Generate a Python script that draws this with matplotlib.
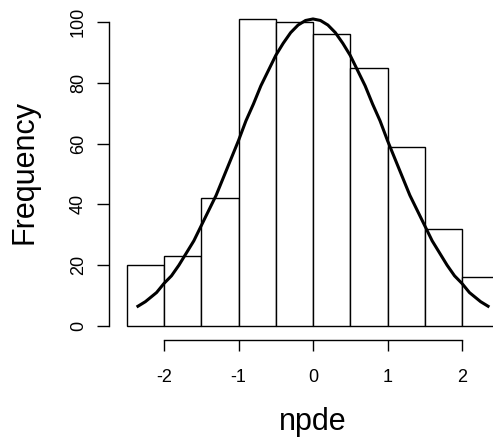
import matplotlib.pyplot as plt
import numpy as np

plt.rcParams['font.family'] = ['Liberation Sans', 'DejaVu Sans']

# histogram bins (width 0.5) and counts
bin_edges = [-2.5, -2.0, -1.5, -1.0, -0.5, 0.0, 0.5, 1.0, 1.5, 2.0, 2.5]
counts = [20, 23, 42, 101, 100, 96, 85, 59, 32, 16]

# overlaid curve
curve_x = [-2.35, -2.25, -2.1, -2.0, -1.9, -1.8, -1.7, -1.6, -1.5, -1.4, -1.3, -1.2, -1.1,
           -1.0, -0.9, -0.8, -0.7, -0.6, -0.5, -0.4, -0.3, -0.2, -0.1, 0.0,
           0.1, 0.2, 0.3, 0.4, 0.5, 0.6, 0.7, 0.8, 0.9, 1.0, 1.1, 1.2, 1.3,
           1.4, 1.5, 1.6, 1.7, 1.8, 1.9, 2.0, 2.1, 2.25, 2.35]
curve_y = [6.5, 8, 11, 14, 16.5, 20, 24, 28, 33, 38, 43, 49, 55,
           61, 67.5, 73, 79, 84, 89, 93, 96.5, 99, 100.5, 101,
           100.5, 99, 96.5, 93, 89, 84, 79, 73, 67.5, 61, 55, 49, 43,
           38, 33, 28, 24, 20, 16.5, 14, 11, 8, 6.5]

x_ticks = [-2, -1, 0, 1, 2]
y_ticks = [0, 20, 40, 60, 80, 100]

W, H = 493, 446
fig = plt.figure(figsize=(W / 100, H / 100), dpi=100)

# axes from pixel 100 to the right edge; x px = 313 + 74.5*x, y px = 326 - 3.04*y
left_px, right_px, top_px, bot_px = 100, 493, 4, 362
ax = fig.add_axes([left_px / W, 1 - bot_px / H, (right_px - left_px) / W, (bot_px - top_px) / H])
ax.set_xlim((left_px - 313) / 74.5, (right_px - 313) / 74.5)
ax.set_ylim((326 - bot_px) / 3.04, (326 - top_px) / 3.04)

edges = np.array(bin_edges)
ax.bar(edges[:-1], counts, width=np.diff(edges), align='edge',
       facecolor='white', edgecolor='black', linewidth=1.0, zorder=2)
ax.plot(curve_x, curve_y, color='black', linewidth=2.2, zorder=3)

for s in ['top', 'right']:
    ax.spines[s].set_visible(False)
ax.spines['left'].set_position(('data', (109 - 313) / 74.5))
ax.spines['left'].set_bounds(0, 100)
ax.spines['bottom'].set_position(('data', (326 - 340) / 3.04))
ax.spines['bottom'].set_bounds(-2, 2)
ax.spines['left'].set_linewidth(1.0)
ax.spines['bottom'].set_linewidth(1.0)
ax.patch.set_visible(False)

ax.set_xticks(x_ticks)
ax.set_xticklabels([str(t) for t in x_ticks])
ax.set_yticks(y_ticks)
ax.set_yticklabels([str(t) for t in y_ticks], rotation=90, va='center')
ax.tick_params(axis='x', direction='out', length=8, width=1.0, pad=13, labelsize=13)
ax.tick_params(axis='y', direction='out', length=9, width=1.0, pad=7, labelsize=13)

fig.text(313 / W, 1 - 422 / H, 'npde', ha='center', va='center', fontsize=22)
fig.text(25 / W, 1 - 172 / H, 'Frequency', ha='center', va='center',
         rotation=90, fontsize=22)

fig.savefig('out.png', dpi=100)
